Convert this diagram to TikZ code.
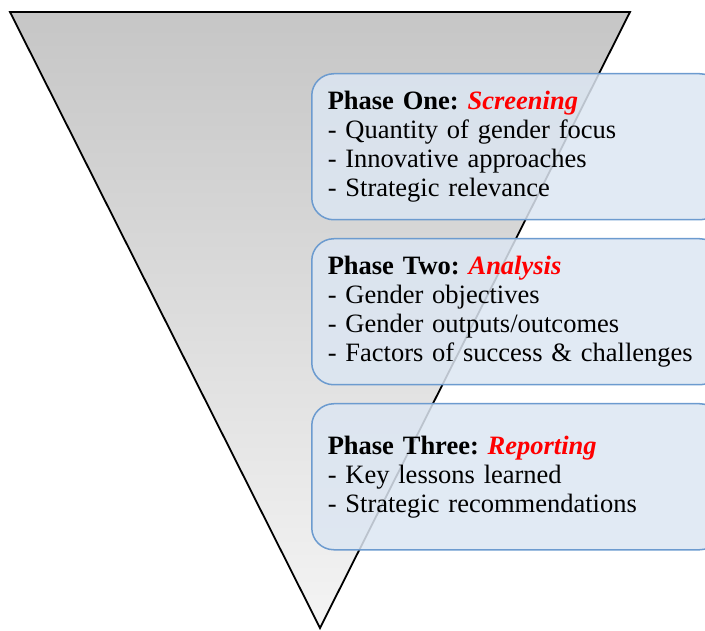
\documentclass[tikz,border=0pt]{standalone}
\usepackage{fontspec}
\setmainfont{Liberation Serif}
\frenchspacing
\definecolor{boxfill}{HTML}{DCE6F2}
\definecolor{boxline}{HTML}{6C9BCF}
\definecolor{phred}{HTML}{FF0000}
\definecolor{tritop}{HTML}{C6C6C6}
\definecolor{tribot}{HTML}{F4F4F4}
\begin{document}
\begin{tikzpicture}[x=1pt,y=-1pt,
  phase/.style={draw=boxline, line width=1.5pt, fill=boxfill, fill opacity=0.85, text opacity=1,
    rounded corners=22pt, anchor=north west, minimum width=400pt, minimum height=146pt,
    inner xsep=16pt, inner ysep=0pt, text width=378pt, align=left,
    font=\fontsize{26.5}{29}\selectfont\frenchspacing},
  hl/.style={text=phred}]
\useasboundingbox (0,0) rectangle (705,631);
\draw[line width=1.8pt, line join=miter, top color=tritop, bottom color=tribot]
  (10,12) coordinate (tl) -- (630,12) coordinate (tr) -- (320,628) coordinate (bt) -- cycle;
\node[phase] (p1) at (311,73) {\textbf{Phase One: \textcolor{phred}{\textit{Screening}}}\\
- Quantity of gender focus\\
- Innovative approaches\\
- Strategic relevance};
\node[phase] (p2) at (311,238) {\textbf{Phase Two: \textcolor{phred}{\textit{Analysis}}}\\
- Gender objectives\\
- Gender outputs/outcomes\\
- Factors of success \& challenges};
\node[phase] (p3) at (311,403) {\textbf{Phase Three: \textcolor{phred}{\textit{Reporting}}}\\
- Key lessons learned\\
- Strategic recommendations};
\end{tikzpicture}
\end{document}
